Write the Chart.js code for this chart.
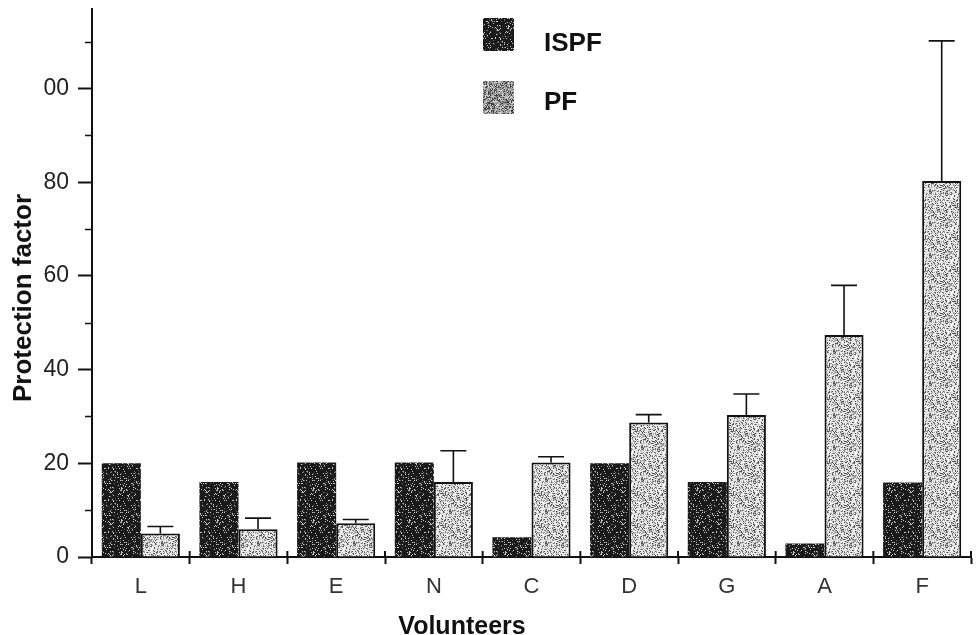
<!DOCTYPE html>
<html><head><meta charset="utf-8">
<script src="https://cdn.jsdelivr.net/npm/chart.js@4/dist/chart.umd.min.js"></script>
<style>
html,body{margin:0;padding:0;background:#fff;}
#wrap{position:relative;width:976px;height:635px;overflow:hidden;}
#c{position:absolute;left:0;top:0;}
.t{position:absolute;font-family:"Liberation Sans",Arial,sans-serif;font-weight:bold;color:#111;white-space:nowrap;line-height:1;}
.sw{position:absolute;width:31px;height:33px;}
</style></head><body>
<div id="wrap">
<canvas id="c" width="976" height="635"></canvas>
<div class="sw" id="sw0" style="left:483px;top:18px;"></div>
<div class="sw" id="sw1" style="left:483px;top:81px;"></div>
<div class="t" id="lg0" style="left:544px;top:42px;font-size:26px;transform:translateY(-50%);"></div>
<div class="t" id="lg1" style="left:544px;top:101px;font-size:26px;transform:translateY(-50%);"></div>
<div class="t" id="xt" style="left:462px;top:625px;font-size:25px;transform:translate(-50%,-50%);">Volunteers</div>
<div class="t" id="yt" style="left:22px;top:298px;font-size:26px;transform:translate(-50%,-50%) rotate(-90deg);">Protection factor</div>
</div>
<script>
// ---- data ----
const categories = ['L','H','E','N','C','D','G','A','F'];
const seriesNames = ['ISPF','PF'];
const ispf = [20.0, 16.0, 20.2, 20.2, 4.2, 20.0, 16.0, 2.9, 15.9];
const pf = [5.0, 5.9, 7.2, 16.0, 20.2, 28.7, 30.3, 47.4, 80.3];
const pfError = [1.5, 2.4, 0.8, 6.7, 1.2, 1.7, 4.5, 10.6, 29.9];
const yTickValues = [0, 20, 40, 60, 80, 100];
const yTickLabels = ['0', '20', '40', '60', '80', '00'];
const yMinorValues = [10, 30, 50, 70, 90, 110];

// ---- textures ----
function hash(x, y, s) {
  let h = Math.imul(x, 374761393) ^ Math.imul(y, 668265263) ^ Math.imul(s, 1442695041);
  h = Math.imul(h ^ (h >>> 13), 1274126177);
  h = h ^ (h >>> 16);
  return (h >>> 0) / 4294967296;
}
function makeTexture(base, specks, seed) {
  const c = document.createElement('canvas');
  c.width = 32; c.height = 32;
  const g = c.getContext('2d');
  g.fillStyle = base; g.fillRect(0, 0, 32, 32);
  for (let y = 0; y < 32; y++) for (let x = 0; x < 32; x++) {
    const h = hash(x, y, seed);
    let acc = 0;
    for (const [col, d] of specks) {
      acc += d;
      if (h < acc) { g.fillStyle = col; g.fillRect(x, y, 1, 1); break; }
    }
  }
  return c;
}
const texIspf = makeTexture('#1a1a1a', [['#c8c8c8', 0.09], ['#6a6a6a', 0.07]], 7);
const texPf = makeTexture('#e6e6e6', [['#505050', 0.18], ['#9a9a9a', 0.2], ['#fafafa', 0.12]], 13);
const ctx = document.getElementById('c').getContext('2d');
const patIspf = ctx.createPattern(texIspf, 'repeat');
const patPf = ctx.createPattern(texPf, 'repeat');

document.getElementById('sw0').style.backgroundImage = 'url(' + texIspf.toDataURL() + ')';
document.getElementById('sw1').style.backgroundImage = 'url(' + makeTexture('#9a9a9a', [['#444', 0.3], ['#d0d0d0', 0.25]], 21).toDataURL() + ')';
document.getElementById('lg0').textContent = seriesNames[0];
document.getElementById('lg1').textContent = seriesNames[1];

const FONT = '"Liberation Sans", Arial, sans-serif';

const extras = {
  id: 'extras',
  afterDatasetsDraw(chart) {
    const c = chart.ctx, y = chart.scales.y;
    const meta = chart.getDatasetMeta(1);
    c.save();
    c.strokeStyle = '#111';
    c.lineWidth = 1.6;
    meta.data.forEach((bar, i) => {
      const top = y.getPixelForValue(pf[i] + pfError[i]);
      c.beginPath();
      c.moveTo(bar.x, bar.y);
      c.lineTo(bar.x, top);
      c.moveTo(bar.x - 13, top);
      c.lineTo(bar.x + 13, top);
      c.stroke();
    });
    c.restore();
  },
  afterDraw(chart) {
    const c = chart.ctx, y = chart.scales.y, x = chart.scales.x;
    c.save();
    c.strokeStyle = '#111';
    c.lineWidth = 1.5;
    yMinorValues.forEach(v => {
      const py = Math.round(y.getPixelForValue(v)) + 0.5;
      c.beginPath(); c.moveTo(y.right - 7, py); c.lineTo(y.right, py); c.stroke();
    });
    c.lineWidth = 2;
    const n = categories.length;
    for (let i = 0; i <= n; i++) {
      const px = x.left + i * (x.right - x.left) / n;
      c.beginPath(); c.moveTo(px, x.top - 6); c.lineTo(px, x.top); c.stroke();
    }
    c.restore();
  }
};

new Chart(ctx, {
  type: 'bar',
  data: {
    labels: categories,
    datasets: [
      { label: seriesNames[0], data: ispf, backgroundColor: patIspf, borderColor: '#111', borderWidth: 0 },
      { label: seriesNames[1], data: pf, backgroundColor: patPf, borderColor: '#111', borderWidth: 2 }
    ]
  },
  options: {
    responsive: false,
    animation: false,
    devicePixelRatio: 1,
    layout: { padding: { top: 9, right: 5, left: 0, bottom: 0 } },
    plugins: { legend: { display: false }, tooltip: { enabled: false } },
    datasets: { bar: { categoryPercentage: 0.8, barPercentage: 1.0 } },
    scales: {
      x: {
        grid: { offset: true, drawOnChartArea: false, drawTicks: true, tickLength: 7, tickColor: '#111', tickWidth: 2 },
        border: { color: '#111', width: 2 },
        ticks: { font: { family: FONT, size: 22 }, color: '#333', padding: 10 },
        afterFit(s) { s.height = 78; s.paddingLeft = 0; s.paddingRight = 0; }
      },
      y: {
        min: 0, max: 117,
        grid: {
          drawOnChartArea: false, tickLength: 14, tickWidth: 2,
          tickColor: (c) => (c.tick && yTickValues.includes(c.tick.value)) ? '#111' : 'rgba(0,0,0,0)'
        },
        border: { color: '#111', width: 2 },
        ticks: {
          stepSize: 10, includeBounds: false, autoSkip: false,
          font: { family: FONT, size: 23 }, color: '#222', padding: 9,
          callback: (v) => { const i = yTickValues.indexOf(v); return i >= 0 ? yTickLabels[i] : ''; }
        },
        afterFit(s) { s.width = 92; s.paddingTop = 0; s.paddingBottom = 0; }
      }
    }
  },
  plugins: [extras]
});
</script>
</body></html>
